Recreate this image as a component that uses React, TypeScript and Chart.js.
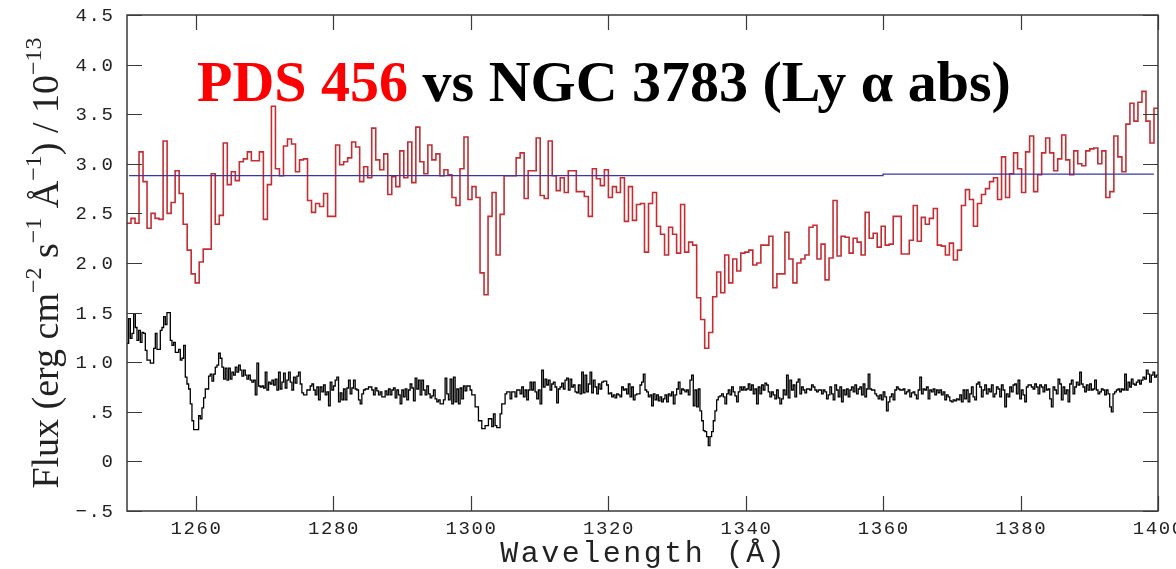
import { useEffect, useRef } from "react";
import { Chart, registerables } from "chart.js";

Chart.register(...registerables);

// ---------- axis settings ----------
const X_MIN = 1250;
const X_MAX = 1400;
const Y_MIN = -0.5;
const Y_MAX = 4.5;
const X_TICKS = [1260, 1280, 1300, 1320, 1340, 1360, 1380, 1400];
const X_TICK_LABELS = ["1260", "1280", "1300", "1320", "1340", "1360", "1380", "1400"];
const Y_TICKS = [-0.5, 0, 0.5, 1, 1.5, 2, 2.5, 3, 3.5, 4, 4.5];
const Y_TICK_LABELS = ["\u2212.5", "0", ".5", "1.0", "1.5", "2.0", "2.5", "3.0", "3.5", "4.0", "4.5"];

// ---------- PDS 456 (red), binned flux, starting at 1250 Å ----------
const PDS_FLUX = [
  2.40, 2.45, 2.40, 3.12, 2.82, 2.35, 2.50, 2.45, 2.44, 3.23,
  2.50, 2.61, 2.93, 2.70, 2.39, 2.13, 1.89, 1.80, 2.01, 2.14,
  2.14, 2.90, 2.39, 2.48, 3.21, 2.79, 2.92, 2.83, 3.02, 3.05,
  3.12, 3.03, 3.03, 3.12, 2.44, 2.79, 3.58, 2.95, 2.88, 3.18,
  3.25, 3.20, 2.92, 3.04, 3.05, 2.63, 2.51, 2.60, 2.57, 2.70,
  2.47, 2.47, 3.19, 2.99, 3.02, 3.06, 3.22, 3.17, 2.82, 2.97,
  2.86, 3.36, 3.04, 2.94, 3.10, 2.69, 2.87, 2.77, 3.13, 2.86,
  3.22, 2.81, 3.37, 3.02, 2.90, 3.19, 3.04, 3.10, 2.88, 2.94,
  2.89, 2.66, 2.58, 2.95, 3.27, 2.64, 2.77, 2.66, 1.90, 1.68,
  2.47, 2.71, 2.08, 2.49, 2.88, 2.88, 2.88, 3.06, 3.11, 2.65,
  2.93, 2.93, 3.26, 2.68, 2.65, 3.23, 2.88, 2.73, 2.86, 2.71,
  2.93, 2.93, 2.72, 2.72, 2.67, 2.47, 2.95, 2.85, 2.78, 2.94,
  2.66, 2.77, 2.71, 2.86, 2.42, 2.77, 2.43, 2.59, 2.60, 2.11,
  2.60, 2.71, 2.37, 2.29, 2.08, 2.36, 2.29, 2.10, 2.59, 2.11,
  2.21, 2.18, 1.65, 1.43, 1.14, 1.30, 1.66, 1.91, 1.70, 2.08,
  1.80, 2.04, 1.92, 2.10, 2.11, 2.13, 1.98, 2.00, 2.18, 2.18,
  2.27, 1.75, 1.89, 1.89, 2.31, 2.04, 1.80, 2.00, 2.04, 2.08,
  2.36, 2.38, 2.04, 2.19, 1.83, 2.05, 2.63, 2.07, 2.27, 2.26,
  2.10, 2.25, 2.21, 2.08, 2.51, 2.25, 2.30, 2.16, 2.37, 2.18,
  2.19, 2.47, 2.47, 2.09, 2.09, 2.23, 2.58, 2.22, 2.46, 2.39,
  2.45, 2.55, 2.18, 2.17, 2.08, 2.20, 2.03, 2.13, 2.58, 2.74,
  2.64, 2.37, 2.60, 2.69, 2.75, 2.82, 2.86, 2.64, 3.07, 2.66,
  2.90, 3.11, 2.95, 2.71, 3.12, 3.28, 2.72, 2.89, 3.11, 3.26,
  3.11, 2.93, 3.05, 3.29, 3.04, 2.89, 3.13, 3.00, 2.98, 3.13,
  3.15, 3.16, 3.00, 3.13, 2.66, 2.72, 3.28, 3.07, 2.92, 3.40,
  3.61, 3.43, 3.62, 3.73, 3.43, 3.21, 3.56,
];

// ---------- NGC 3783 (black), binned flux, three consecutive stretches ----------
const NGC_FLUX_A = [
  1.19, 1.44, 1.24, 1.29, 1.49, 1.35, 1.22, 1.32, 1.20, 1.30,
  1.29, 1.12, 1.02, 1.02, 0.99, 0.99, 1.14, 1.29, 1.13, 1.13,
  1.32, 1.35, 1.46, 1.38, 1.50, 1.50, 1.22, 1.17, 1.20, 1.10,
  1.10, 1.13, 1.02, 1.04, 1.17, 0.85, 0.78, 0.73, 0.58, 0.41,
  0.32, 0.32, 0.32, 0.46, 0.43, 0.54, 0.64, 0.73, 0.73, 0.86,
  0.88, 0.81, 0.88, 0.95, 0.97, 1.09, 1.04, 0.95, 0.83, 0.94,
  0.82, 0.94, 0.83, 0.90, 0.87, 0.95, 0.90, 0.97, 0.92, 0.86,
  0.92, 0.87, 0.83, 0.87, 0.82, 0.80, 0.82, 0.67, 0.99, 0.76,
  0.75, 0.76, 0.74, 0.90, 0.72, 0.80, 0.78, 0.82, 0.77, 0.83,
  0.72, 0.90, 0.73, 0.80, 0.89, 0.74, 0.82, 0.90, 0.80, 0.72,
  0.85, 0.79, 0.86, 0.90, 0.78, 0.69, 0.67, 0.67, 0.72, 0.72,
  0.76, 0.78, 0.72, 0.67, 0.75, 0.62, 0.75, 0.70, 0.77, 0.67,
  0.70, 0.56, 0.80, 0.72, 0.76, 0.82, 0.85, 0.60, 0.69, 0.62,
  0.73, 0.62, 0.74, 0.82, 0.68, 0.74, 0.82, 0.73, 0.72, 0.62,
  0.58, 0.68, 0.72, 0.73, 0.73, 0.75, 0.75, 0.72, 0.67, 0.74,
  0.71, 0.67, 0.70, 0.65, 0.65, 0.71, 0.67, 0.73, 0.67, 0.72,
  0.74, 0.64, 0.72, 0.67, 0.58, 0.72, 0.65, 0.73, 0.62, 0.72,
  0.78, 0.74, 0.61, 0.84, 0.73, 0.82, 0.67, 0.82, 0.72, 0.67,
  0.76, 0.68, 0.64, 0.66, 0.72, 0.63, 0.60, 0.62, 0.58, 0.58,
  0.62, 0.84, 0.68, 0.62, 0.83, 0.58, 0.85, 0.60, 0.73, 0.58,
  0.74, 0.63, 0.76, 0.71, 0.76, 0.76,
];
const NGC_FLUX_B = [
  0.72, 0.67, 0.67, 0.55, 0.55, 0.41, 0.41, 0.33, 0.33, 0.36,
  0.36, 0.43, 0.43, 0.35, 0.48, 0.36, 0.34, 0.34, 0.48, 0.58,
  0.58, 0.68, 0.70, 0.70, 0.63, 0.70, 0.70, 0.65, 0.72, 0.72,
  0.68, 0.75, 0.65, 0.72, 0.62, 0.72, 0.80, 0.72, 0.80, 0.70,
  0.63, 0.72, 0.58, 0.92, 0.75, 0.83, 0.77, 0.82, 0.72, 0.78,
  0.80, 0.75, 0.59, 0.73, 0.75, 0.79, 0.73, 0.82, 0.84, 0.72,
  0.83, 0.75, 0.77, 0.70, 0.69, 0.77, 0.68, 0.90, 0.69, 0.87,
  0.70, 0.78, 0.90, 0.69, 0.82, 0.75, 0.68, 0.78, 0.73, 0.80,
  0.81, 0.81, 0.77, 0.68, 0.69, 0.65, 0.67, 0.64, 0.68, 0.67,
  0.65, 0.75, 0.72, 0.73, 0.68, 0.78, 0.65, 0.75, 0.62, 0.67,
  0.68, 0.68, 0.77, 0.80, 0.88, 0.72, 0.70, 0.65, 0.67, 0.56,
  0.68, 0.62, 0.67, 0.61, 0.65, 0.60, 0.63, 0.67, 0.60, 0.68,
  0.66, 0.70, 0.58, 0.67, 0.73, 0.80, 0.68, 0.73, 0.72, 0.70,
  0.72, 0.67, 0.82, 0.87, 0.56, 0.72, 0.55, 0.73, 0.51, 0.41,
  0.31, 0.30, 0.25, 0.16, 0.25, 0.30, 0.41, 0.51, 0.62, 0.65,
  0.66, 0.68, 0.65, 0.58, 0.68, 0.72, 0.67, 0.75, 0.70, 0.66,
  0.60, 0.70, 0.75, 0.72, 0.75, 0.72, 0.73, 0.78, 0.72, 0.77,
  0.68, 0.73, 0.58, 0.75, 0.68, 0.77, 0.72, 0.79, 0.77, 0.70,
  0.65, 0.70, 0.67, 0.63, 0.72, 0.64, 0.58, 0.63, 0.72, 0.67,
  0.87, 0.64, 0.82, 0.72, 0.77, 0.65, 0.80, 0.83, 0.68, 0.75,
  0.72, 0.69, 0.73, 0.73,
];
const NGC_FLUX_C = [
  0.72, 0.77, 0.75, 0.72, 0.70, 0.72,
  0.72, 0.68, 0.72, 0.70, 0.63, 0.67, 0.75, 0.68,
  0.62, 0.77, 0.72, 0.65, 0.75, 0.60, 0.72, 0.67,
  0.73, 0.65, 0.72, 0.75, 0.70, 0.77, 0.68, 0.73,
  0.75, 0.67, 0.78, 0.65, 0.73, 0.88, 0.73, 0.72,
  0.72, 0.68, 0.66, 0.63, 0.67, 0.62, 0.70, 0.65,
  0.51, 0.60, 0.65, 0.68, 0.62, 0.72, 0.75, 0.73,
  0.72, 0.72, 0.73, 0.68, 0.70, 0.72, 0.65, 0.69,
  0.70, 0.67, 0.63, 0.72, 0.85, 0.68, 0.73, 0.72,
  0.75, 0.63, 0.72, 0.70, 0.73, 0.67, 0.72, 0.69,
  0.72, 0.67, 0.70, 0.62, 0.67, 0.65, 0.61, 0.60,
  0.62, 0.61, 0.63, 0.62, 0.67, 0.60, 0.72, 0.63,
  0.72, 0.60, 0.68, 0.75, 0.65, 0.62, 0.78, 0.80,
  0.75, 0.65, 0.72, 0.77, 0.68, 0.73, 0.70, 0.77,
  0.65, 0.68, 0.75, 0.73, 0.65, 0.77, 0.72, 0.55,
  0.68, 0.65, 0.75, 0.70, 0.77, 0.78, 0.68, 0.82,
  0.63, 0.72, 0.67, 0.60, 0.75, 0.77, 0.77, 0.75,
  0.73, 0.78, 0.75, 0.68, 0.77, 0.75, 0.70, 0.77,
  0.72, 0.73, 0.63, 0.55, 0.75, 0.72, 0.68, 0.83,
  0.78, 0.62, 0.75, 0.68, 0.72, 0.60, 0.78, 0.82,
  0.68, 0.75, 0.80, 0.77, 0.90, 0.78, 0.75, 0.70,
  0.77, 0.72, 0.78, 0.72, 0.73, 0.82, 0.72, 0.68,
  0.70, 0.73, 0.72, 0.67, 0.72, 0.68, 0.55, 0.50,
  0.68, 0.70, 0.72, 0.73, 0.70, 0.73, 0.72, 0.88,
  0.72, 0.80, 0.75, 0.83, 0.78, 0.77, 0.80, 0.82,
  0.78, 0.82, 0.85, 0.83, 0.92, 0.88, 0.80, 0.87,
  0.90, 0.85, 0.87,
];

// ---------- continuum level (blue) ----------
const CONT_WAVE = [1250.3, 1360.0, 1360.0, 1399.4];
const CONT_FLUX = [2.88, 2.88, 2.895, 2.895];

// ---------- text ----------
const TITLE_RED = "PDS 456";
const TITLE_BLACK = "vs NGC 3783 (Ly \u03b1 abs)";
const X_TITLE = "Wavelength (\u00c5)";
const Y_TITLE = [
  { t: "Flux (erg cm", sup: false },
  { t: "\u22122", sup: true },
  { t: " s", sup: false },
  { t: "\u22121", sup: true },
  { t: " \u00c5", sup: false },
  { t: "\u22121", sup: true },
  { t: ") / 10", sup: false },
  { t: "\u221213", sup: true },
];

function binnedPoints(values: number[], start: number, end: number) {
  const step = (end - start) / values.length;
  const pts = values.map((v, i) => ({ x: start + i * step, y: v }));
  pts.push({ x: end, y: values[values.length - 1] });
  return pts;
}

const MONO = '"Liberation Mono", "DejaVu Sans Mono", monospace';
const SERIF = '"Liberation Serif", "DejaVu Serif", serif';

const framePlugin = {
  id: "frameAndText",
  afterDraw(chart: any) {
    const { ctx, chartArea, scales } = chart;
    const { left, right, top, bottom } = chartArea;
    const xs = scales.x;
    const ys = scales.y;
    ctx.save();
    // frame
    ctx.strokeStyle = "#3a3a3a";
    ctx.lineWidth = 1.5;
    ctx.strokeRect(left, top, right - left, bottom - top);
    // ticks
    ctx.lineWidth = 1.2;
    ctx.beginPath();
    X_TICKS.forEach((v) => {
      const px = Math.round(xs.getPixelForValue(v)) + 0.5;
      ctx.moveTo(px, bottom);
      ctx.lineTo(px, bottom - 15);
      ctx.moveTo(px, top);
      ctx.lineTo(px, top + 15);
    });
    Y_TICKS.forEach((v) => {
      const py = Math.round(ys.getPixelForValue(v)) + 0.5;
      ctx.moveTo(left, py);
      ctx.lineTo(left + 15, py);
      ctx.moveTo(right, py);
      ctx.lineTo(right - 15, py);
    });
    ctx.stroke();

    // tick labels
    const ls = 1.6;
    ctx.fillStyle = "#222222";
    ctx.font = `19px ${MONO}`;
    (ctx as any).letterSpacing = `${ls}px`;
    ctx.textBaseline = "alphabetic";
    ctx.textAlign = "right";
    Y_TICKS.forEach((v, i) => {
      const py = ys.getPixelForValue(v);
      ctx.fillText(Y_TICK_LABELS[i], left - 14 + ls, py + 6);
    });
    ctx.textAlign = "center";
    X_TICKS.forEach((v, i) => {
      const px = xs.getPixelForValue(v);
      ctx.fillText(X_TICK_LABELS[i], px + ls / 2, bottom + 23);
    });

    // x title
    const ls2 = 2.5;
    ctx.font = `30px ${MONO}`;
    (ctx as any).letterSpacing = `${ls2}px`;
    ctx.fillText(X_TITLE, (left + right) / 2 + ls2 / 2, 562);
    (ctx as any).letterSpacing = "0px";

    // y title with superscripts
    const mainFont = `38px ${SERIF}`;
    const supFont = `24px ${SERIF}`;
    let total = 0;
    Y_TITLE.forEach((s) => {
      ctx.font = s.sup ? supFont : mainFont;
      total += ctx.measureText(s.t).width;
    });
    ctx.save();
    ctx.translate(58, (top + bottom) / 2);
    ctx.rotate(-Math.PI / 2);
    ctx.textAlign = "left";
    ctx.fillStyle = "#222";
    let tx = -total / 2;
    Y_TITLE.forEach((s) => {
      ctx.font = s.sup ? supFont : mainFont;
      ctx.fillText(s.t, tx, s.sup ? -17 : 0);
      tx += ctx.measureText(s.t).width;
    });
    ctx.restore();

    // main title
    ctx.font = `bold 58px ${SERIF}`;
    ctx.textAlign = "left";
    ctx.textBaseline = "alphabetic";
    ctx.fillStyle = "#ff0000";
    ctx.fillText(TITLE_RED, 197, 101);
    const w = ctx.measureText(TITLE_RED + " ").width;
    ctx.fillStyle = "#000000";
    ctx.fillText(TITLE_BLACK, 197 + w, 101);

    ctx.restore();
  },
};

export default function App() {
  const ref = useRef<HTMLCanvasElement>(null);
  useEffect(() => {
    const canvas = ref.current;
    if (!canvas) return;
    const ngc = NGC_FLUX_A.concat(NGC_FLUX_B, NGC_FLUX_C);
    const chart = new Chart(canvas, {
      type: "line",
      data: {
        datasets: [
          {
            label: "continuum",
            data: CONT_WAVE.map((x, i) => ({ x, y: CONT_FLUX[i] })),
            borderColor: "rgb(55,55,170)",
            borderWidth: 1.3,
            pointRadius: 0,
            tension: 0,
          },
          {
            label: "PDS 456",
            data: binnedPoints(PDS_FLUX, X_MIN, X_MAX),
            stepped: "before",
            borderColor: "rgb(196,45,50)",
            borderWidth: 1.6,
            pointRadius: 0,
          },
          {
            label: "NGC 3783",
            data: binnedPoints(ngc, X_MIN, X_MAX),
            stepped: "before",
            borderColor: "#000000",
            borderWidth: 1.3,
            pointRadius: 0,
          },
        ],
      } as any,
      options: {
        responsive: false,
        animation: false,
        devicePixelRatio: 1,
        events: [],
        layout: { padding: { left: 0, right: 18, top: 15, bottom: 0 } },
        plugins: {
          legend: { display: false },
          tooltip: { enabled: false },
          title: { display: false },
        },
        scales: {
          x: {
            type: "linear",
            min: X_MIN,
            max: X_MAX,
            grid: { display: false },
            border: { display: false },
            ticks: { display: false },
            afterFit: (s: any) => {
              s.height = 58;
              s.paddingLeft = 0;
              s.paddingRight = 0;
            },
          },
          y: {
            type: "linear",
            min: Y_MIN,
            max: Y_MAX,
            grid: { display: false },
            border: { display: false },
            ticks: { display: false },
            afterFit: (s: any) => {
              s.width = 127;
              s.paddingTop = 0;
              s.paddingBottom = 0;
            },
          },
        },
      } as any,
      plugins: [framePlugin],
    });
    return () => chart.destroy();
  }, []);
  return (
    <div style={{ position: "fixed", left: 0, top: 0, width: 1176, height: 569, background: "#ffffff" }}>
      <canvas ref={ref} width={1176} height={569} style={{ display: "block" }} />
    </div>
  );
}
